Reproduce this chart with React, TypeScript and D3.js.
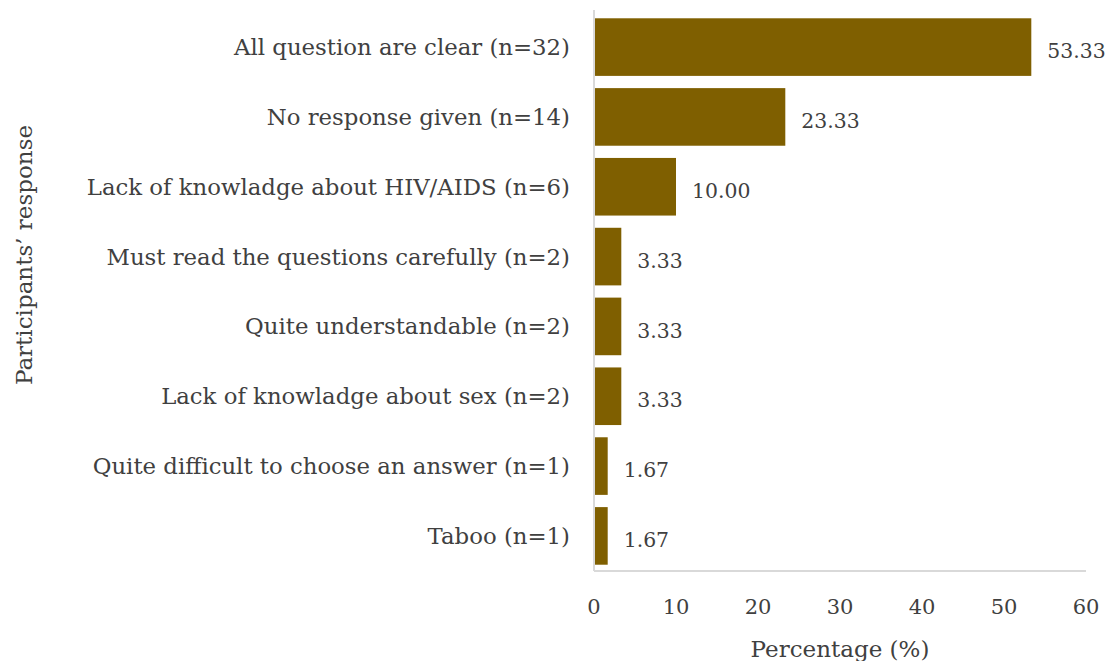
import React from "react";
import * as d3 from "d3";

const categories = [
  "All question are clear (n=32)",
  "No response given (n=14)",
  "Lack of knowladge about HIV/AIDS (n=6)",
  "Must read the questions carefully (n=2)",
  "Quite understandable (n=2)",
  "Lack of knowladge about sex (n=2)",
  "Quite difficult to choose an answer (n=1)",
  "Taboo (n=1)",
];
const values = [53.33, 23.33, 10.0, 3.33, 3.33, 3.33, 1.67, 1.67];
const xTicks = [0, 10, 20, 30, 40, 50, 60];
const xTitle = "Percentage (%)";
const yTitle = "Participants\u2019 response";

const W = 1107;
const H = 661;
const FONT = "'DejaVu Serif', Georgia, serif";
const TEXT = "#404040";
const BAR = "#7F5F00";
const AXIS = "#D9D9D9";

export default function App() {
  const left = 594;
  const right = 1086;
  const top = 12;
  const bottom = 571;
  const x = d3.scaleLinear().domain([0, 60]).range([left, right]);
  const y = d3
    .scaleBand<string>()
    .domain(categories)
    .range([top, bottom])
    .paddingInner(0.175)
    .paddingOuter(0.09);

  return (
    <svg
      width={W}
      height={H}
      style={{ position: "absolute", left: 0, top: 0, background: "#fff" }}
      fontFamily={FONT}
    >
      {categories.map((c, i) => {
        const yy = y(c)!;
        const bw = y.bandwidth();
        const xe = x(values[i]);
        return (
          <g key={c}>
            <rect x={x(0) + 1} y={yy} width={xe - x(0) - 1} height={bw} fill={BAR} />
            <text
              x={left - 24}
              y={yy + bw / 2}
              dy="0.35em"
              textAnchor="end"
              fontSize={22.8}
              fill={TEXT}
            >
              {c}
            </text>
            <text
              x={xe + 16}
              y={yy + bw / 2 + 4}
              dy="0.35em"
              textAnchor="start"
              fontSize={20.4}
              fill={TEXT}
            >
              {values[i].toFixed(2)}
            </text>
          </g>
        );
      })}
      <line x1={left} x2={left} y1={top - 2} y2={bottom} stroke={AXIS} strokeWidth={2} />
      <line x1={left} x2={right} y1={bottom} y2={bottom} stroke={AXIS} strokeWidth={2} />
      {xTicks.map((t) => (
        <text
          key={t}
          x={x(t)}
          y={607}
          dy="0.35em"
          textAnchor="middle"
          fontSize={21}
          fill={TEXT}
        >
          {t}
        </text>
      ))}
      <text x={840} y={649} dy="0.35em" textAnchor="middle" fontSize={23} fill={TEXT}>
        {xTitle}
      </text>
      <text
        transform={`translate(24,255) rotate(-90)`}
        dy="0.35em"
        textAnchor="middle"
        fontSize={23}
        fill={TEXT}
      >
        {yTitle}
      </text>
    </svg>
  );
}
